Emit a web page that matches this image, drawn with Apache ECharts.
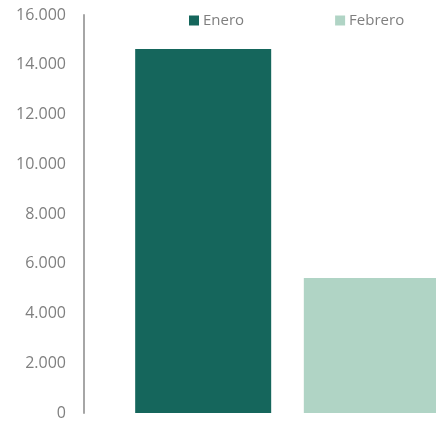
<!DOCTYPE html>
<html><head><meta charset="utf-8">
<script src="https://cdn.jsdelivr.net/npm/echarts@6/dist/echarts.min.js"></script>
<style>html,body{margin:0;padding:0;background:#fff}#c{width:436px;height:423px}</style>
</head><body><div id="c"></div>
<script>
const categories = [''];
const seriesNames = ['Enero', 'Febrero'];
const eneroValues = [14630];
const febreroValues = [5430];
const yTicks = { min: 0, max: 16000, interval: 2000 };

const chart = echarts.init(document.getElementById('c'));
const fmt = v => String(v).replace(/\B(?=(\d{3})+(?!\d))/g, '.');
chart.setOption({
  animation: false,
  textStyle: { fontFamily: 'Open Sans' },
  legend: {
    data: seriesNames,
    left: 184, top: 8,
    itemWidth: 10, itemHeight: 10, itemGap: 91,
    icon: 'rect',
    textStyle: { color: '#7f7f7f', fontSize: 15, padding: [0, 0, 0, -1] }
  },
  grid: { left: 139, right: 0, top: 15, bottom: 10, containLabel: false },
  xAxis: {
    type: 'category', data: categories,
    axisLine: { show: false }, axisTick: { show: false }, axisLabel: { show: false }
  },
  yAxis: {
    type: 'value', min: yTicks.min, max: yTicks.max, interval: yTicks.interval,
    offset: 55,
    axisLine: { show: true, lineStyle: { color: '#a6a6a6', width: 2 } },
    axisTick: { show: false },
    splitLine: { show: false },
    axisLabel: { color: '#7f7f7f', fontSize: 16, margin: 18, formatter: fmt }
  },
  series: [
    { name: seriesNames[0], type: 'bar', clip: false, data: eneroValues, barWidth: 136, barGap: '24%', itemStyle: { color: '#15665c' } },
    { name: seriesNames[1], type: 'bar', clip: false, data: febreroValues, barWidth: 136, itemStyle: { color: '#b0d4c5' } }
  ]
});
</script></body></html>
